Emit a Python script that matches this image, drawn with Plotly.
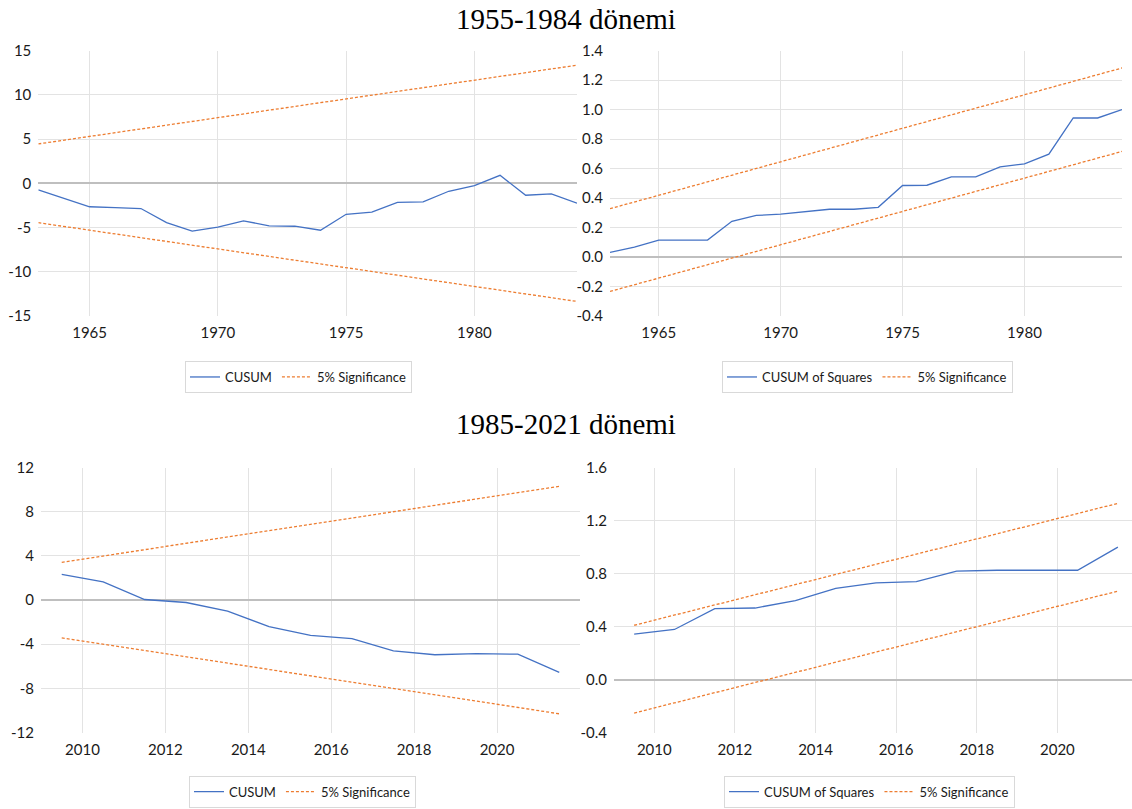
import plotly.graph_objects as go

# ---------------- data ----------------
years_top = list(range(1963, 1985))
cusum_top = [-0.75, -1.7, -2.65, -2.75, -2.85, -4.45, -5.4, -4.95, -4.25, -4.8, -4.85,
             -5.3, -3.5, -3.25, -2.15, -2.1, -0.9, -0.25, 0.9, -1.35, -1.2, -2.25]
cusum_top_band_years = [1963, 1984]
cusum_top_upper = [4.45, 13.35]
cusum_top_lower = [-4.45, -13.35]

cusumsq_top = [0.031, 0.068, 0.115, 0.115, 0.115, 0.242, 0.282, 0.291, 0.31, 0.324, 0.324,
               0.337, 0.485, 0.487, 0.544, 0.544, 0.612, 0.632, 0.698, 0.943, 0.943, 1.0]
cusumsq_top_upper = [0.328, 1.282]
cusumsq_top_lower = [-0.233, 0.716]

years_bot = list(range(2009, 2022))
cusum_bot = [2.33, 1.65, 0.05, -0.22, -1.0, -2.4, -3.2, -3.5, -4.6, -4.95, -4.85, -4.9, -6.55]
cusum_bot_band_years = [2009, 2021]
cusum_bot_upper = [3.42, 10.3]
cusum_bot_lower = [-3.42, -10.3]

cusumsq_bot = [0.343, 0.378, 0.535, 0.54, 0.595, 0.688, 0.73, 0.74, 0.818, 0.825, 0.825, 0.825, 1.0]
cusumsq_bot_upper = [0.41, 1.33]
cusumsq_bot_lower = [-0.2525, 0.6675]

top_x_ticks = [1965, 1970, 1975, 1980]
bot_x_labels = [2010, 2012, 2014, 2016, 2018, 2020]

y1_ticks = [-15, -10, -5, 0, 5, 10, 15]
y2_ticks = [-0.4, -0.2, 0.0, 0.2, 0.4, 0.6, 0.8, 1.0, 1.2, 1.4]
y3_ticks = [-12, -8, -4, 0, 4, 8, 12]
y4_ticks = [-0.4, 0.0, 0.4, 0.8, 1.2, 1.6]

titles = ["1955-1984 dönemi", "1985-2021 dönemi"]
names = ["CUSUM", "CUSUM of Squares", "5% Significance"]

# ---------------- style ----------------
W, H = 1132, 809
BLUE = "#4472C4"
ORANGE = "#ED7D31"
GRID = "#e3e3e3"
ZERO = "#bfbfbf"
TXT = "#1a1a1a"
FONT = "Lato"


def fx(p):
    return p / W


def fy(p):
    return 1 - p / H


fig = go.Figure()


def panel(idx, xs, ys, band_x, up, lo, main_name):
    xa = "x" if idx == 1 else f"x{idx}"
    ya = "y" if idx == 1 else f"y{idx}"
    leg = "legend" if idx == 1 else f"legend{idx}"
    fig.add_trace(go.Scatter(x=xs, y=ys, mode="lines", name=main_name,
                             line=dict(color=BLUE, width=1.3),
                             xaxis=xa, yaxis=ya, legend=leg))
    fig.add_trace(go.Scatter(x=band_x, y=up, mode="lines", name=names[2],
                             line=dict(color=ORANGE, width=1.3, dash="3px,2px"),
                             legendgroup=f"sig{idx}",
                             xaxis=xa, yaxis=ya, legend=leg))
    fig.add_trace(go.Scatter(x=band_x, y=lo, mode="lines", name=names[2],
                             line=dict(color=ORANGE, width=1.3, dash="3px,2px"),
                             legendgroup=f"sig{idx}", showlegend=False,
                             xaxis=xa, yaxis=ya, legend=leg))


panel(1, years_top, cusum_top, cusum_top_band_years, cusum_top_upper, cusum_top_lower, names[0])
panel(2, years_top, cusumsq_top, cusum_top_band_years, cusumsq_top_upper, cusumsq_top_lower, names[1])
panel(3, years_bot, cusum_bot, cusum_bot_band_years, cusum_bot_upper, cusum_bot_lower, names[0])
panel(4, years_bot, cusumsq_bot, cusum_bot_band_years, cusumsq_bot_upper, cusumsq_bot_lower, names[1])

tickfont = dict(family=FONT, size=15, color=TXT)
common_x = dict(showgrid=True, gridcolor=GRID, gridwidth=1, zeroline=False, showline=False,
                ticks="", ticklabelstandoff=6, tickfont=tickfont, fixedrange=True)


def yaxis_def(ticks, rng, decimals, domain, anchor):
    inner = [t for t in ticks if t not in (rng[0], rng[1]) and t != 0]
    text = [f"{t:.{decimals}f}" for t in ticks]
    return dict(showgrid=False, zeroline=True, zerolinecolor=ZERO, zerolinewidth=1.6,
                showline=False, ticks="", ticklabelstandoff=6, tickfont=tickfont,
                fixedrange=True, range=rng, tickvals=ticks, ticktext=text,
                minor=dict(tickvals=inner, showgrid=True, gridcolor=GRID, gridwidth=1, ticks=""),
                domain=domain, anchor=anchor)


top_y = [fy(313), fy(41.5)]
bot_y = [fy(739), fy(468)]

bot_tickvals = [v - 0.5 for v in bot_x_labels]
bot_ticktext = [str(v) for v in bot_x_labels]

layout = dict(
    width=W, height=H,
    margin=dict(l=0, r=0, t=0, b=0),
    paper_bgcolor="white", plot_bgcolor="white",
    showlegend=True,
    xaxis=dict(common_x, domain=[fx(38.3), fx(577)], range=[1963, 1984],
               tickvals=top_x_ticks, anchor="y"),
    yaxis=yaxis_def(y1_ticks, [-15, 15], 0, top_y, "x"),
    xaxis2=dict(common_x, domain=[fx(610), fx(1122)], range=[1963, 1984],
                tickvals=top_x_ticks, anchor="y2"),
    yaxis2=yaxis_def(y2_ticks, [-0.4, 1.4], 1, top_y, "x2"),
    xaxis3=dict(common_x, domain=[fx(41), fx(580)], range=[2008.5, 2021.5],
                tickvals=bot_tickvals, ticktext=bot_ticktext, anchor="y3"),
    yaxis3=yaxis_def(y3_ticks, [-12, 12], 0, bot_y, "x3"),
    xaxis4=dict(common_x, domain=[fx(614), fx(1132)], range=[2008.5, 2021.35],
                tickvals=bot_tickvals, ticktext=bot_ticktext, anchor="y4"),
    yaxis4=yaxis_def(y4_ticks, [-0.4, 1.6], 1, bot_y, "x4"),
)

leg_common = dict(orientation="h", xanchor="left", yanchor="top", bgcolor="white",
                  bordercolor="#d9d9d9", borderwidth=1, itemwidth=30,
                  font=dict(family=FONT, size=13, color=TXT), tracegroupgap=0)
layout["legend"] = dict(leg_common, x=fx(185), y=fy(359))
layout["legend2"] = dict(leg_common, x=fx(722), y=fy(359))
layout["legend3"] = dict(leg_common, x=fx(189), y=fy(783))
layout["legend4"] = dict(leg_common, x=fx(724), y=fy(783))

layout["annotations"] = [
    dict(text=titles[0], x=0.5, y=fy(9), xref="paper", yref="paper", showarrow=False,
         xanchor="center", yanchor="middle",
         font=dict(family="Liberation Serif", size=29, color="black")),
    dict(text=titles[1], x=0.5, y=fy(423), xref="paper", yref="paper", showarrow=False,
         xanchor="center", yanchor="middle",
         font=dict(family="Liberation Serif", size=29, color="black")),
]

fig.update_layout(layout)
fig.write_html("out.html", config={"displayModeBar": False},
               post_script="document.body.style.margin='0';document.body.style.overflow='hidden';")
